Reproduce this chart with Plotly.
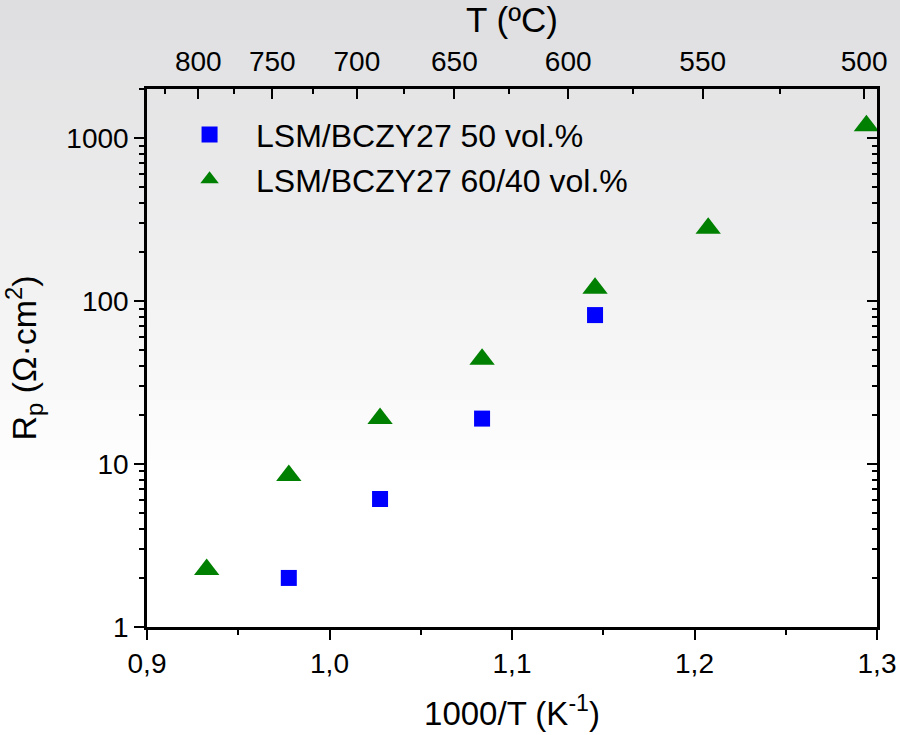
import plotly.graph_objects as go

# ---------------- data ----------------
x_blue = [0.9777, 1.0277, 1.0836, 1.1455]
y_blue = [2.0, 6.1, 19.0, 82.0]

x_green = [0.9327, 0.9777, 1.0277, 1.0836, 1.1455, 1.2075, 1.2942]
y_green = [2.25, 8.5, 19.0, 44.0, 120.0, 280.0, 1190.0]

name_blue = "LSM/BCZY27 50 vol.%"
name_green = "LSM/BCZY27 60/40 vol.%"

x_ticks = [0.9, 1.0, 1.1, 1.2, 1.3]
x_ticktext = ["0,9", "1,0", "1,1", "1,2", "1,3"]
y_ticks = [1, 10, 100, 1000]
y_ticktext = ["1", "10", "100", "1000"]
top_T = [800, 750, 700, 650, 600, 550, 500]
top_T_minor = [825, 775, 725, 675, 625, 575, 525]

FONT = "Liberation Sans, Arial, sans-serif"

fig = go.Figure()

fig.add_trace(go.Scatter(
    x=x_blue, y=y_blue, mode="markers", name=name_blue,
    marker=dict(symbol="square", size=16, color="#0000ff",
                line=dict(width=0)),
))
fig.add_trace(go.Scatter(
    x=x_green, y=y_green, mode="markers", name=name_green,
    marker=dict(symbol="triangle-up", size=22, color="#008000",
                line=dict(width=0)),
))
# helper trace so that the top / right axes are drawn
fig.add_trace(go.Scatter(x=[None], y=[None], xaxis="x2", yaxis="y2",
                         showlegend=False, hoverinfo="skip"))

# gradient background (top grey -> white)
n_bands = 48
plot_top, plot_bot = 89, 627
grad_end = 480
for i in range(n_bands):
    y0px = i * grad_end / n_bands
    y1px = (i + 1) * grad_end / n_bands
    t = (i + 0.5) / n_bands
    c = int(round(222 + (255 - 222) * t))
    cb = int(round(224 + (255 - 224) * t))
    fig.add_shape(type="rect", xref="paper", yref="paper", layer="below",
                  x0=-0.3, x1=1.3,
                  y0=(plot_bot - y1px) / (plot_bot - plot_top),
                  y1=(plot_bot - y0px) / (plot_bot - plot_top) + (0.01 if i == 0 else 0),
                  fillcolor=f"rgb({c},{c},{cb})", line=dict(width=0))

axis_common = dict(showline=True, linecolor="black", linewidth=2.5,
                   showgrid=False, zeroline=False, tickcolor="black",
                   automargin=False,
                   tickwidth=2, tickfont=dict(family=FONT, size=28, color="black"))

fig.update_layout(
    width=900, height=735,
    margin=dict(l=147, r=23, t=89, b=108, autoexpand=False),
    paper_bgcolor="white",
    plot_bgcolor="rgba(0,0,0,0)",
    font=dict(family=FONT, color="black"),
    showlegend=True,
    legend=dict(x=0.022, y=0.966, xanchor="left", yanchor="top",
                bgcolor="rgba(0,0,0,0)", font=dict(family=FONT, size=32),
                itemwidth=83, tracegroupgap=0),
    xaxis=dict(range=[0.9, 1.3], tickvals=x_ticks, ticktext=x_ticktext,
               ticks="outside", ticklen=10,
               minor=dict(dtick=0.05, ticks="outside", ticklen=5,
                          tickwidth=2, tickcolor="black"),
               title=dict(text="1000/T (K<sup>-1</sup>)",
                          font=dict(family=FONT, size=33), standoff=24),
               **axis_common),
    yaxis=dict(type="log", range=[0, 3.301], tickvals=y_ticks,
               ticktext=y_ticktext, ticks="outside", ticklen=10,
               minor=dict(tickvals=[m * 10 ** d for d in range(0, 4) for m in range(2, 10)],
                          ticks="outside", ticklen=5, tickwidth=2,
                          tickcolor="black"),
               title=dict(text="R<sub>p</sub> (Ω·cm<sup>2</sup>)",
                          font=dict(family=FONT, size=34), standoff=20),
               **axis_common),
    xaxis2=dict(overlaying="x", side="top", range=[1.1922, 2.0145],
                tickvals=[1000 / t for t in top_T],
                ticktext=[str(t) for t in top_T],
                ticks="inside", ticklen=10, ticklabelstandoff=4,
                minor=dict(tickvals=[1000 / t for t in top_T_minor],
                           ticks="inside", ticklen=5, tickwidth=2,
                           tickcolor="black"),
                title=dict(text="T (ºC)", font=dict(family=FONT, size=35),
                           standoff=6),
                **axis_common),
    yaxis2=dict(overlaying="y", side="right", type="log", range=[0, 3.301],
                tickvals=y_ticks, showticklabels=False,
                ticks="inside", ticklen=10,
                minor=dict(tickvals=[m * 10 ** d for d in range(0, 4) for m in range(2, 10)],
                           ticks="inside", ticklen=5, tickwidth=2,
                           tickcolor="black"),
                **axis_common),
)

fig.write_html("out.html")
